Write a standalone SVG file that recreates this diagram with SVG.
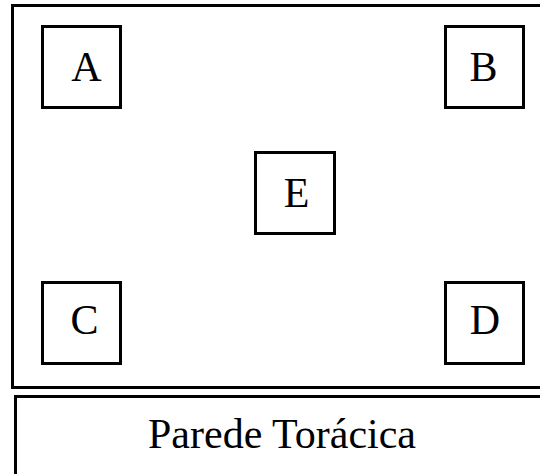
<svg xmlns="http://www.w3.org/2000/svg" width="540" height="474" viewBox="0 0 540 474">
<style>
.frame{fill:#fff;stroke:#000;stroke-width:3}
.box{fill:#fff;stroke:#000;stroke-width:3}
.lbl{font-family:"Liberation Serif","Times New Roman",serif;font-size:42px;fill:#000;text-anchor:middle}
</style>
<rect width="540" height="474" fill="#fff"/>
<g id="container">
<rect class="frame" x="12.5" y="5.5" width="540" height="382"/>
</g>
<g id="nodeA"><rect class="box" x="42.5" y="26.5" width="78" height="81"/><text class="lbl" x="86.5" y="81">A</text></g>
<g id="nodeB"><rect class="box" x="445.5" y="26.5" width="78" height="81"/><text class="lbl" x="483.5" y="81">B</text></g>
<g id="nodeE"><rect class="box" x="255.5" y="152.5" width="79" height="81"/><text class="lbl" x="296.5" y="207">E</text></g>
<g id="nodeC"><rect class="box" x="42.5" y="282.5" width="78" height="81"/><text class="lbl" x="84.5" y="334">C</text></g>
<g id="nodeD"><rect class="box" x="445.5" y="282.5" width="78" height="81"/><text class="lbl" x="485" y="334">D</text></g>
<g id="wall">
<rect class="frame" x="15.5" y="396.5" width="540" height="100"/>
<text class="lbl" x="282" y="448">Parede Torácica</text>
</g>
<g id="connectors"></g>
</svg>
